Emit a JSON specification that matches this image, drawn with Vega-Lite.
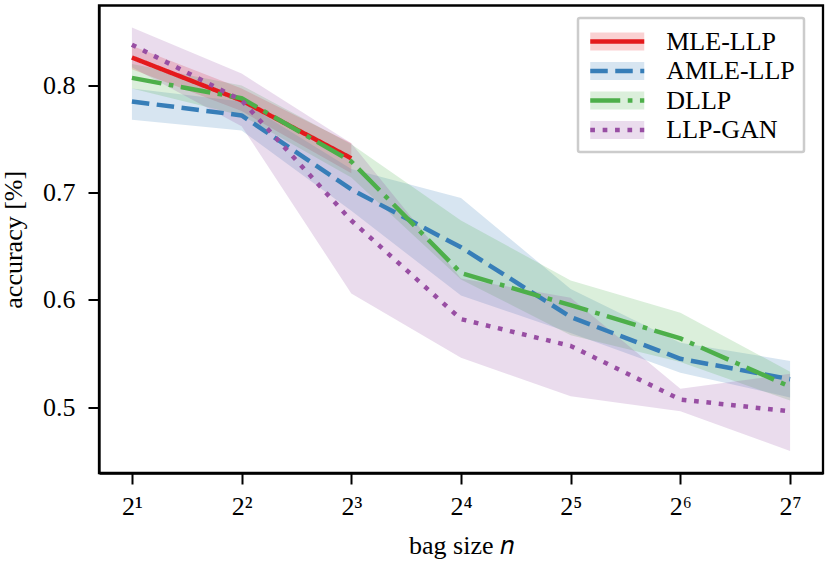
{
  "$schema": "https://vega.github.io/schema/vega-lite/v6.json",
  "width": 724,
  "height": 467.5,
  "autosize": {"type": "none"},
  "padding": {"left": 99, "top": 5.5, "right": 8, "bottom": 91},
  "config": {
    "font": "Liberation Serif",
    "view": {"stroke": "black", "strokeWidth": 2.3},
    "axis": {
      "domainColor": "black", "domainWidth": 2.3,
      "tickColor": "black", "tickWidth": 2, "tickSize": 11,
      "labelFont": "Liberation Serif", "labelFontSize": 26, "labelColor": "black",
      "titleFont": "Liberation Serif", "titleFontSize": 26, "titleFontWeight": "normal", "titleColor": "black",
      "grid": false
    },
    "legend": {
      "labelFont": "Liberation Serif", "labelFontSize": 26, "labelColor": "black", "labelLimit": 400
    }
  },
  "data": {"values": [
    {"series": "MLE-LLP", "n": 2, "mean": 0.826, "lo": 0.815, "hi": 0.837},
    {"series": "MLE-LLP", "n": 4, "mean": 0.786, "lo": 0.776, "hi": 0.797},
    {"series": "MLE-LLP", "n": 8, "mean": 0.732, "lo": 0.718, "hi": 0.746},
    {"series": "AMLE-LLP", "n": 2, "mean": 0.785, "lo": 0.768, "hi": 0.797},
    {"series": "AMLE-LLP", "n": 4, "mean": 0.772, "lo": 0.758, "hi": 0.785},
    {"series": "AMLE-LLP", "n": 8, "mean": 0.703, "lo": 0.683, "hi": 0.722},
    {"series": "AMLE-LLP", "n": 16, "mean": 0.649, "lo": 0.604, "hi": 0.695},
    {"series": "AMLE-LLP", "n": 32, "mean": 0.584, "lo": 0.569, "hi": 0.610},
    {"series": "AMLE-LLP", "n": 64, "mean": 0.545, "lo": 0.532, "hi": 0.560},
    {"series": "AMLE-LLP", "n": 128, "mean": 0.526, "lo": 0.509, "hi": 0.543},
    {"series": "DLLP", "n": 2, "mean": 0.807, "lo": 0.797, "hi": 0.820},
    {"series": "DLLP", "n": 4, "mean": 0.788, "lo": 0.772, "hi": 0.800},
    {"series": "DLLP", "n": 8, "mean": 0.729, "lo": 0.714, "hi": 0.745},
    {"series": "DLLP", "n": 16, "mean": 0.625, "lo": 0.619, "hi": 0.674},
    {"series": "DLLP", "n": 32, "mean": 0.595, "lo": 0.567, "hi": 0.618},
    {"series": "DLLP", "n": 64, "mean": 0.564, "lo": 0.542, "hi": 0.588},
    {"series": "DLLP", "n": 128, "mean": 0.519, "lo": 0.506, "hi": 0.533},
    {"series": "LLP-GAN", "n": 2, "mean": 0.838, "lo": 0.817, "hi": 0.854},
    {"series": "LLP-GAN", "n": 4, "mean": 0.786, "lo": 0.762, "hi": 0.811},
    {"series": "LLP-GAN", "n": 8, "mean": 0.674, "lo": 0.606, "hi": 0.746},
    {"series": "LLP-GAN", "n": 16, "mean": 0.582, "lo": 0.546, "hi": 0.620},
    {"series": "LLP-GAN", "n": 32, "mean": 0.557, "lo": 0.510, "hi": 0.602},
    {"series": "LLP-GAN", "n": 64, "mean": 0.507, "lo": 0.496, "hi": 0.517},
    {"series": "LLP-GAN", "n": 128, "mean": 0.496, "lo": 0.459, "hi": 0.531}
  ]},
  "encoding": {
    "x": {
      "field": "n", "type": "quantitative",
      "scale": {"type": "log", "base": 2, "domain": [1.6245, 157.59], "nice": false},
      "axis": {
        "values": [2, 4, 8, 16, 32, 64, 128],
        "labelExpr": "'2' + ['¹','²','³','⁴','⁵','⁶','⁷'][round(log(datum.value) / LN2) - 1]",
        "labelPadding": 9, "labelFlush": false, "labelOverlap": false, "titlePadding": 13
      },
      "title": "bag size 𝑛"
    }
  },
  "layer": [
    {
      "mark": {"type": "area", "opacity": 0.2},
      "encoding": {
        "y": {
          "field": "lo", "type": "quantitative",
          "scale": {"domain": [0.4385, 0.8745], "nice": false, "zero": false},
          "axis": {"values": [0.5, 0.6, 0.7, 0.8], "format": ".1f", "labelPadding": 13, "titlePadding": 16},
          "title": "accuracy [%]"
        },
        "y2": {"field": "hi"},
        "fill": {
          "field": "series", "type": "nominal",
          "scale": {
            "domain": ["MLE-LLP", "AMLE-LLP", "DLLP", "LLP-GAN"],
            "range": ["#e41a1c", "#377eb8", "#4daf4a", "#984ea3"]
          },
          "legend": {
            "title": null, "orient": "none", "legendX": 479, "legendY": 12.5,
            "symbolType": "M-1.895,-0.632H1.895V0.632H-1.895Z", "symbolSize": 812,
            "symbolOpacity": 0.2, "symbolStrokeWidth": 0,
            "symbolOffset": 15.75, "labelOffset": 34.5, "rowPadding": 1.5,
            "padding": 9, "labelOpacity": 0,
            "fillColor": "white", "strokeColor": "#cccccc", "cornerRadius": 2,
            "encode": {"legend": {"update": {"strokeWidth": {"value": 2.5}}}}
          }
        }
      }
    },
    {
      "mark": {"type": "line", "strokeWidth": 4.5, "strokeJoin": "round", "strokeCap": "butt"},
      "encoding": {
        "y": {"field": "mean", "type": "quantitative"},
        "color": {
          "field": "series", "type": "nominal",
          "sort": ["MLE-LLP", "AMLE-LLP", "DLLP", "LLP-GAN"],
          "scale": {"range": ["#e41a1c", "#377eb8", "#4daf4a", "#984ea3"]},
          "legend": null
        },
        "strokeDash": {
          "field": "series", "type": "nominal",
          "sort": ["MLE-LLP", "AMLE-LLP", "DLLP", "LLP-GAN"],
          "scale": {"range": [[1, 0], [17.5, 7.5], [30, 7.5, 4.7, 7.5], [4.7, 7.7]]},
          "legend": {
            "title": null, "orient": "none", "legendX": 479, "legendY": 12.5,
            "symbolType": "M-2.25,0H2.25", "symbolSize": 576,
            "symbolStrokeWidth": 4.5,
            "symbolOffset": 15.75, "labelOffset": 34.5, "rowPadding": 1.5,
            "padding": 9,
            "encode": {"symbols": {"update": {"stroke": {"scale": "color", "field": "value"}, "fill": {"value": "transparent"}}}}
          }
        }
      }
    }
  ]
}
